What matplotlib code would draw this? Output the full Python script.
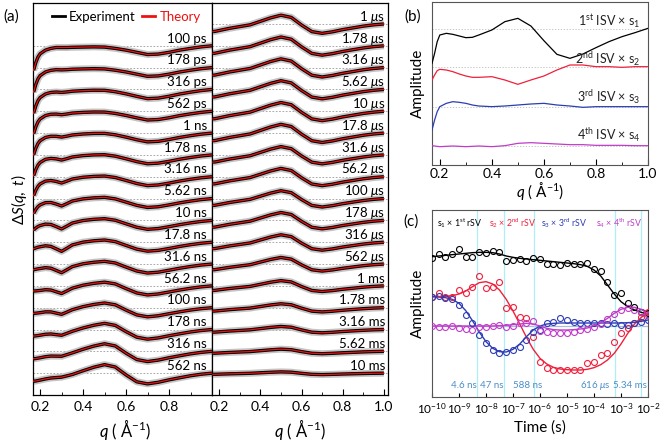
import numpy as np
import matplotlib
matplotlib.use("Agg")
import matplotlib.pyplot as plt
from matplotlib.lines import Line2D
from matplotlib.ticker import MultipleLocator, NullLocator
import matplotlib.transforms as mtrans

plt.rcParams['font.family'] = ['Lato', 'DejaVu Sans']
plt.rcParams['mathtext.fontset'] = 'custom'
plt.rcParams['mathtext.rm'] = 'Lato'
plt.rcParams['mathtext.it'] = 'Lato:italic'
plt.rcParams['mathtext.bf'] = 'Lato:bold'
plt.rcParams['mathtext.fallback'] = 'stixsans'

# ---- data -------------------------------------------------------------
q_grid = [0.17, 0.18, 0.19, 0.20, 0.225, 0.25, 0.275, 0.30, 0.325, 0.35, 0.40, 0.45,
          0.50, 0.55, 0.60, 0.65, 0.70, 0.75, 0.80, 0.85, 0.90, 0.95, 1.00]

# component shapes of the difference curves (a)
steep = [-1.0, -0.65, -0.4, -0.25, -0.1, -0.04, 0, 0, 0, 0, 0, 0,
         0, 0, 0, 0, 0, 0, 0, 0, 0, 0, 0]
early = [-0.12, -0.12, -0.12, -0.12, -0.1, -0.08, -0.08, -0.08, -0.08, -0.07, -0.06, -0.05,
         -0.06, -0.12, -0.2, -0.3, -0.4, -0.38, -0.3, -0.2, -0.12, -0.05, 0]
late = [-0.35, -0.34, -0.32, -0.3, -0.25, -0.2, -0.16, -0.12, -0.08, -0.04, 0.12, 0.28,
        0.40, 0.30, -0.05, -0.35, -0.43, -0.36, -0.26, -0.18, -0.1, -0.04, 0]
notch = [0, 0, 0, 0, 0, -0.05, -0.15, -0.25, -0.15, -0.05, 0, 0,
         0, 0, 0, 0, 0, 0, 0, 0, 0, 0, 0]

delay_labels = ['100 ps', '178 ps', '316 ps', '562 ps', '1 ns', '1.78 ns', '3.16 ns', '5.62 ns',
                '10 ns', '17.8 ns', '31.6 ns', '56.2 ns', '100 ns', '178 ns', '316 ns', '562 ns',
                r'1 $\mu$s', r'1.78 $\mu$s', r'3.16 $\mu$s', r'5.62 $\mu$s', r'10 $\mu$s',
                r'17.8 $\mu$s', r'31.6 $\mu$s', r'56.2 $\mu$s', r'100 $\mu$s', r'178 $\mu$s',
                r'316 $\mu$s', r'562 $\mu$s', '1 ms', '1.78 ms', '3.16 ms', '5.62 ms', '10 ms']
delays = [1e-10, 1.78e-10, 3.16e-10, 5.62e-10, 1e-9, 1.78e-9, 3.16e-9, 5.62e-9,
          1e-8, 1.78e-8, 3.16e-8, 5.62e-8, 1e-7, 1.78e-7, 3.16e-7, 5.62e-7,
          1e-6, 1.78e-6, 3.16e-6, 5.62e-6, 1e-5, 1.78e-5, 3.16e-5, 5.62e-5,
          1e-4, 1.78e-4, 3.16e-4, 5.62e-4, 1e-3, 1.78e-3, 3.16e-3, 5.62e-3, 1e-2]

w_steep = [1.0, 1.0, 0.95, 0.9, 0.85, 0.8, 0.7, 0.5, 0.25, 0.1, 0.05, 0, 0, 0, 0, 0,
           0, 0, 0, 0, 0, 0, 0, 0, 0, 0, 0, 0, 0, 0, 0, 0, 0]
w_early = [1.0, 1.0, 1.0, 0.95, 0.9, 0.85, 0.8, 0.75, 0.7, 0.65, 0.6, 0.5, 0.4, 0.3, 0.2, 0.15,
           0, 0, 0, 0, 0, 0, 0, 0, 0, 0, 0, 0, 0, 0, 0, 0, 0]
w_late = [0, 0, 0.05, 0.05, 0.1, 0.15, 0.2, 0.25, 0.3, 0.35, 0.4, 0.5, 0.6, 0.75, 0.9, 1.0,
          1.0, 1.0, 1.0, 1.0, 1.0, 1.0, 0.95, 0.95, 0.9, 0.9, 0.85, 0.75, 0.6, 0.45, 0.35, 0.25, 0.15]
w_notch = [0, 0.1, 0.2, 0.3, 0.4, 0.6, 0.8, 1.0, 1.2, 1.3, 1.2, 1.0, 0.8, 0.6, 0.4, 0.2,
           0, 0, 0, 0, 0, 0, 0, 0, 0, 0, 0, 0, 0, 0, 0, 0, 0]

# (b) ISV x singular value
isv1 = [-1.02, -0.72, -0.37, -0.17, -0.12, -0.15, -0.2, -0.25, -0.24, -0.17, -0.02, 0.23,
        0.33, 0.1, -0.34, -0.75, -0.87, -0.74, -0.55, -0.37, -0.22, -0.1, 0.03]
isv2 = [-0.4, -0.25, -0.12, -0.08, -0.1, -0.15, -0.22, -0.28, -0.32, -0.32, -0.3, -0.4,
        -0.53, -0.4, -0.28, -0.1, 0.05, 0.05, 0, 0, -0.02, 0, 0]
isv3 = [-0.7, -0.4, -0.15, 0, 0.1, 0.15, 0.13, 0.1, 0.05, 0.02, 0, 0.02,
        0.05, 0.08, 0.1, 0.05, 0.02, -0.02, 0, 0, 0, 0, 0]
isv4 = [0, -0.01, -0.02, -0.03, -0.02, -0.01, -0.02, -0.03, -0.02, -0.01, -0.03, 0,
        0.07, 0.09, 0.07, 0.05, 0.03, 0.03, 0.01, 0.01, 0.01, 0, 0]
isv_labels = [r'1$^{\mathrm{st}}$ ISV $\times$ s$_1$', r'2$^{\mathrm{nd}}$ ISV $\times$ s$_2$',
              r'3$^{\mathrm{rd}}$ ISV $\times$ s$_3$', r'4$^{\mathrm{th}}$ ISV $\times$ s$_4$']

# (c) rSV x singular value, points and fits
rsv1_pts = [2.03, 2.16, 2.08, 2.15, 2.30, 2.06, 2.06, 2.21, 2.18, 2.26, 2.23, 1.95, 1.98, 2.00, 1.95, 2.03,
            2.00, 1.85, 1.86, 1.83, 1.90, 1.85, 1.85, 1.88, 1.70, 1.65, 1.33, 0.93, 0.98, 0.68, 0.56, 0.43, 0.38]
rsv1_fit = [2.08, 2.10, 2.12, 2.14, 2.16, 2.18, 2.20, 2.21, 2.21, 2.20, 2.16, 2.10, 2.06, 2.03, 2.01, 1.99,
            1.97, 1.95, 1.93, 1.91, 1.89, 1.87, 1.84, 1.79, 1.68, 1.50, 1.23, 0.96, 0.73, 0.58, 0.48, 0.41, 0.36]
rsv2_pts = [0.88, 1.00, 0.88, 0.88, 1.08, 1.00, 1.16, 1.50, 1.13, 1.18, 1.33, 0.53, 0.56, 0.28, 0.23, -0.32,
            -1.07, -1.27, -1.32, -1.32, -1.32, -1.32, -1.32, -1.12, -1.07, -0.87, -0.82, -0.47, -0.22, -0.07,
            0.08, 0.28, 0.43]
rsv2_fit = [0.88, 0.88, 0.89, 0.91, 0.96, 1.05, 1.18, 1.30, 1.33, 1.26, 1.08, 0.80, 0.45, 0.06, -0.34, -0.70,
            -0.97, -1.14, -1.24, -1.29, -1.31, -1.32, -1.32, -1.30, -1.25, -1.16, -1.02, -0.82, -0.54, -0.22,
            0.06, 0.26, 0.38]
rsv3_pts = [0.88, 0.90, 0.83, 0.80, 0.63, 0.33, 0.08, -0.27, -0.52, -0.72, -0.80, -0.77, -0.72, -0.62, -0.42,
            -0.17, -0.12, 0.08, 0.13, 0.23, 0.18, 0.13, 0.08, 0.08, 0.10, 0.08, 0.06, 0.08, 0.03, 0.03,
            0.08, 0.13, 0.18]
rsv3_fit = [0.88, 0.87, 0.85, 0.80, 0.68, 0.46, 0.16, -0.18, -0.47, -0.67, -0.77, -0.78, -0.70, -0.54, -0.32,
            -0.12, 0.00, 0.06, 0.08, 0.09, 0.09, 0.09, 0.09, 0.09, 0.09, 0.09, 0.09, 0.09, 0.09, 0.10,
            0.11, 0.14, 0.18]
rsv4_pts = [0.00, -0.02, -0.02, 0.00, -0.07, -0.10, -0.12, -0.02, -0.02, 0.00, 0.03, -0.02, 0.00, 0.10, 0.08,
            0.16, -0.14, -0.17, -0.22, -0.22, -0.20, -0.17, -0.12, -0.10, -0.02, 0.06, 0.20, 0.36, 0.48, 0.53,
            0.48, 0.43, 0.33]
rsv4_fit = [0.00, 0.00, 0.00, 0.00, 0.00, 0.00, 0.00, 0.00, 0.00, 0.00, 0.01, 0.02, 0.04, 0.06, 0.08,
            0.06, 0.00, -0.07, -0.11, -0.12, -0.12, -0.11, -0.09, -0.06, 0.00, 0.10, 0.23, 0.38, 0.50, 0.56,
            0.56, 0.50, 0.43]
rsv_labels = [r's$_1$ $\times$ 1$^{\mathrm{st}}$ rSV', r's$_2$ $\times$ 2$^{\mathrm{nd}}$ rSV',
              r's$_3$ $\times$ 3$^{\mathrm{rd}}$ rSV', r's$_4$ $\times$ 4$^{\mathrm{th}}$ rSV']

taus = [4.6e-9, 4.7e-8, 5.88e-7, 6.16e-4, 5.34e-3]
tau_labels = ['4.6 ns', '47 ns', '588 ns', r'616 $\mu$s', '5.34 ms']

# ---- figure ----------------------------------------------------------
W, H = 661, 442


def fx(px):
    return px / W


def fy(py):
    return 1 - py / H


fig = plt.figure(figsize=(6.61, 4.42), dpi=100)

red_a = '#f01010'
col_isv = ['black', '#f0203c', '#2c3cb4', '#c03cc8']

ax_l = fig.add_axes([fx(33), fy(395), fx(179), 392 / H])
ax_r = fig.add_axes([fx(212), fy(395), fx(176), 392 / H])

q = np.array(q_grid)
for k in range(len(delays)):
    y = (w_steep[k] * np.array(steep) + w_early[k] * np.array(early)
         + w_late[k] * np.array(late) + w_notch[k] * np.array(notch))
    if k < 16:
        ax, pos, xl = ax_l, k + 1, 0.972
    else:
        ax, pos, xl = ax_r, k - 16, 0.983
    base = -pos
    ax.axhline(base, ls=(0, (2, 2)), color='#9a9a9a', lw=0.6, zorder=1)
    ax.plot(q, base + y, color='#c4c4c4', lw=5, solid_capstyle='butt', zorder=2)
    ax.plot(q, base + y, color='black', lw=2.4, solid_capstyle='butt', zorder=3)
    ax.plot(q, base + y, color=red_a, lw=0.9, zorder=4)
    tr = mtrans.blended_transform_factory(ax.transAxes, ax.transData)
    ax.text(xl, base + 0.15, delay_labels[k], transform=tr, ha='right', va='baseline', fontsize=9.5)

for ax in (ax_l, ax_r):
    ax.set_ylim(-17.0, 0.96)
    ax.set_yticks([])
    ax.xaxis.set_major_locator(MultipleLocator(0.2))
    ax.xaxis.set_minor_locator(MultipleLocator(0.1))
    ax.tick_params(axis='x', direction='in', length=4, width=0.8, labelsize=10, pad=4)
    ax.tick_params(axis='x', which='minor', direction='in', length=2, width=0.6)
    for s in ax.spines.values():
        s.set_linewidth(0.9)
ax_l.set_xlim(0.167, 1.0)
ax_l.set_xticks([0.2, 0.4, 0.6, 0.8])
ax_r.set_xlim(0.165, 1.02)
ax_r.set_xticks([0.2, 0.4, 0.6, 0.8, 1.0])

handles = [Line2D([], [], color='black', lw=2), Line2D([], [], color=red_a, lw=2)]
ax_l.legend(handles, ['Experiment', 'Theory'], loc='upper left', bbox_to_anchor=(0.06, 1.0), ncol=2,
            frameon=False, handlelength=1.0, handletextpad=0.3, columnspacing=0.5, fontsize=9.5,
            labelcolor=['black', red_a], borderaxespad=0.2)

# (b)
ax_b = fig.add_axes([fx(432), fy(165), fx(216), 163 / H])
offsets = [3.62, 2.5, 1.3, 0.13]
label_y = [3.72, 2.58, 1.45, 0.30]
for isv, off, col, lab, ly in zip([isv1, isv2, isv3, isv4], offsets, col_isv, isv_labels, label_y):
    ax_b.axhline(off, ls=(0, (1.5, 2)), color='#bbbbbb', lw=0.6, zorder=1)
    ax_b.plot(q, off + np.array(isv), color=col, lw=0.9, zorder=3)
    trb = mtrans.blended_transform_factory(ax_b.transAxes, ax_b.transData)
    ax_b.text(0.965, ly, lab, transform=trb, ha='right', va='baseline', fontsize=9, color='#222222')
ax_b.set_xlim(0.17, 1.0)
ax_b.set_ylim(-0.45, 4.44)
ax_b.set_yticks([])
ax_b.xaxis.set_major_locator(MultipleLocator(0.2))
ax_b.xaxis.set_minor_locator(MultipleLocator(0.1))
ax_b.tick_params(axis='x', direction='in', length=4, width=0.8, labelsize=10, pad=2.5)
ax_b.tick_params(axis='x', which='minor', direction='in', length=2, width=0.6)
for s in ax_b.spines.values():
    s.set_linewidth(0.8)
    s.set_color('#555555')

# (c)
ax_c = fig.add_axes([fx(432), fy(397), fx(216), 187 / H])
ax_c.set_xscale('log')
ax_c.axhline(0, color='#a8bce0', lw=0.9, zorder=1)
for t in taus:
    ax_c.axvline(t, color='#aeeef4', lw=0.9, zorder=1)
for pts, fit, col in zip([rsv1_pts, rsv2_pts, rsv3_pts, rsv4_pts],
                         [rsv1_fit, rsv2_fit, rsv3_fit, rsv4_fit], col_isv):
    ax_c.plot(delays, fit, color=col, lw=1.0, zorder=3)
    ax_c.plot(delays, pts, 'o', mfc='none', mec=col, ms=4.3, mew=0.8, zorder=4)
ax_c.set_xlim(1e-10, 1e-2)
ax_c.set_ylim(-2.13, 3.48)
ax_c.set_yticks([])
ax_c.set_xticks([1e-10, 1e-9, 1e-8, 1e-7, 1e-6, 1e-5, 1e-4, 1e-3, 1e-2])
ax_c.xaxis.set_minor_locator(NullLocator())
ax_c.tick_params(axis='x', direction='in', length=3, width=0.8, labelsize=8.5, pad=3)
for s in ax_c.spines.values():
    s.set_linewidth(0.8)
    s.set_color('#555555')

for x0, lab, col in zip([0.023, 0.262, 0.505, 0.757], rsv_labels, col_isv):
    ax_c.text(x0, 0.93, lab, transform=ax_c.transAxes, ha='left', va='center', fontsize=6.3, color=col)
tau_x = [1.55e-9, 1.67e-8, 3.6e-7, 1.17e-4, 2.1e-3]
trc = mtrans.blended_transform_factory(ax_c.transData, ax_c.transAxes)
for x0, lab in zip(tau_x, tau_labels):
    ax_c.text(x0, 0.064, lab, transform=trc, ha='center', va='center', fontsize=7, color='#4a8ec8')

# labels
fig.text(fx(11), fy(17), '(a)', ha='center', va='center', fontsize=11)
fig.text(fx(413), fy(17), '(b)', ha='center', va='center', fontsize=11)
fig.text(fx(411), fy(222), '(c)', ha='center', va='center', fontsize=11)
fig.text(fx(19), fy(200), r'$\Delta S(q,\ t)$', rotation=90, ha='center', va='center', fontsize=11)
fig.text(fx(125), fy(430), r'$q$ ( Å$^{-1}$)', ha='center', va='center', fontsize=12)
fig.text(fx(300), fy(430), r'$q$ ( Å$^{-1}$)', ha='center', va='center', fontsize=12)
fig.text(fx(540), fy(191), r'$q$ ( Å$^{-1}$)', ha='center', va='center', fontsize=11)
fig.text(fx(418), fy(83), 'Amplitude', rotation=90, ha='center', va='center', fontsize=11)
fig.text(fx(418), fy(303), 'Amplitude', rotation=90, ha='center', va='center', fontsize=11)
fig.text(fx(540), fy(428), 'Time (s)', ha='center', va='center', fontsize=11)

plt.savefig('out.png', dpi=100)
